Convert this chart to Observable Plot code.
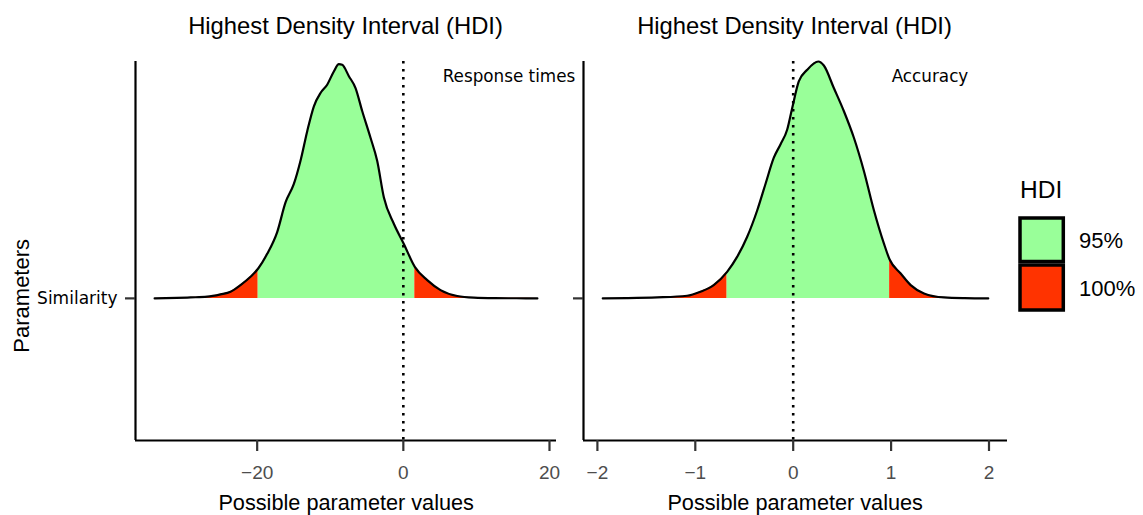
<!DOCTYPE html>
<html><head><meta charset="utf-8">
<script src="https://cdn.jsdelivr.net/npm/d3@7"></script>
<script src="https://cdn.jsdelivr.net/npm/@observablehq/plot@0.6"></script>
<style>
body{margin:0;background:#fff;}
#wrap{position:relative;width:1143px;height:515px;overflow:hidden;}
#wrap svg{position:absolute;top:0;}
</style></head><body><div id="wrap"></div>
<script>
// ---- data ----
const chartTitle = "Highest Density Interval (HDI)";
const parameterName = "Similarity";
const panelLabels = ["Response times", "Accuracy"];
const yAxisTitle = "Parameters";
const xAxisTitle = "Possible parameter values";
const hdiLevels = ["95%", "100%"];
const hdiColors = ["#99FF99", "#FF3300"];

// Response times posterior (density scaled so that the peak ~ 1)
const rtX = [-34.03, -31.0, -29.12, -26.84, -25.02, -23.65, -22.28, -20.91, -19.86, -18.63, -17.26, -16.12, -14.98, -14.07, -13.15, -12.24, -11.33, -10.42, -9.51, -8.82, -8.37, -7.45, -6.54, -5.63, -4.49, -3.58, -2.66, -1.30, 0.07, 1.57, 3.27, 5.09, 7.37, 9.65, 12.5, 15.5, 18.34];
const rtH = [0, 0.002, 0.004, 0.007, 0.017, 0.028, 0.056, 0.091, 0.126, 0.188, 0.28, 0.405, 0.483, 0.581, 0.706, 0.811, 0.867, 0.902, 0.958, 0.989, 0.986, 0.938, 0.888, 0.791, 0.678, 0.581, 0.426, 0.315, 0.23, 0.133, 0.077, 0.035, 0.01, 0.003, 0.001, 0.0005, 0];
const rtHdi = [-19.86, 1.57];
const rtTicks = [-20, 0, 20];
const rtDomain = [-36.65, 20.96];

// Accuracy posterior
const accX = [-1.945, -1.70, -1.39, -1.084, -0.948, -0.812, -0.675, -0.573, -0.471, -0.368, -0.283, -0.198, -0.130, -0.061, -0.010, 0.057, 0.143, 0.256, 0.313, 0.415, 0.518, 0.620, 0.722, 0.825, 0.927, 0.985, 1.098, 1.200, 1.336, 1.541, 1.75, 1.992];
const accH = [0, 0.001, 0.004, 0.011, 0.028, 0.056, 0.112, 0.175, 0.259, 0.371, 0.483, 0.594, 0.650, 0.713, 0.804, 0.916, 0.965, 1.0, 0.983, 0.888, 0.790, 0.678, 0.538, 0.371, 0.231, 0.164, 0.105, 0.056, 0.021, 0.004, 0.001, 0];
const accHdi = [-0.675, 0.985];
const accTicks = [-2, -1, 0, 1, 2];
const accDomain = [-2.142, 2.189];

const yDomain = [-0.6, 1];

// ---- build ----
function segments(xs, hs, hdi) {
  const out = [];
  xs.forEach((x, i) => {
    const h = hs[i];
    if (x <= hdi[0]) out.push({x, h, seg: "L", level: hdiLevels[1]});
    if (x >= hdi[0] && x <= hdi[1]) out.push({x, h, seg: "M", level: hdiLevels[0]});
    if (x >= hdi[1]) out.push({x, h, seg: "R", level: hdiLevels[1]});
  });
  return out;
}

function panel({xs, hs, hdi, domain, ticks, showLabel, width, left, ml, mr}) {
  const pts = xs.map((x, i) => ({x, h: hs[i]}));
  const svg = Plot.plot({
    width, height: 515,
    marginLeft: ml, marginRight: mr, marginTop: 61, marginBottom: 75,
    style: {background: "transparent", overflow: "visible", fontFamily: "Liberation Sans, Arial, sans-serif"},
    x: {domain, label: null},
    y: {domain: yDomain, label: null},
    color: {domain: hdiLevels, range: hdiColors},
    marks: [
      Plot.areaY(segments(xs, hs, hdi), {x: "x", y1: () => 0, y2: "h", z: "seg", fill: "level", curve: "monotone-x"}),
      Plot.lineY(pts, {x: "x", y: "h", stroke: "black", strokeWidth: 2.2, curve: "monotone-x"}),
      Plot.ruleX([0], {stroke: "black", strokeWidth: 2.6, strokeDasharray: "2.6,5.4"}),
      Plot.ruleX([domain[0]], {stroke: "black", strokeWidth: 2.2}),
      Plot.ruleY([yDomain[0]], {stroke: "black", strokeWidth: 2.2}),
      Plot.axisX({ticks, tickSize: 11, tickPadding: 14, fontSize: 19, stroke: "#333", strokeWidth: 2.2, fill: "#4d4d4d",
        tickFormat: d3.format(","), label: null}),
      Plot.axisY({ticks: [0], tickSize: 10, tickPadding: 8, fontSize: 17, fontFamily: "DejaVu Sans", stroke: "#333", strokeWidth: 2.2, fill: "black",
        tickFormat: () => showLabel ? parameterName : "", label: null})
    ]
  });
  svg.style.left = left + "px";
  return svg;
}

const wrap = document.getElementById("wrap");
wrap.appendChild(panel({xs: rtX, hs: rtH, hdi: rtHdi, domain: rtDomain, ticks: rtTicks, showLabel: true, width: 580, left: 0, ml: 135, mr: 24}));
wrap.appendChild(panel({xs: accX, hs: accH, hdi: accHdi, domain: accDomain, ticks: accTicks, showLabel: false, width: 583, left: 560, ml: 23, mr: 136}));

// ---- overlay texts and legend ----
const ov = d3.select(wrap).append("svg").attr("width", 1143).attr("height", 515)
  .style("left", "0px").style("overflow", "visible")
  .style("font-family", "Liberation Sans, Arial, sans-serif");

[345.5, 794.5].forEach(cx => {
  ov.append("text").attr("x", cx).attr("y", 33.8).attr("text-anchor", "middle")
    .attr("font-size", 23.8).attr("fill", "black").text(chartTitle);
  ov.append("text").attr("x", cx + 0.7).attr("y", 510).attr("text-anchor", "middle")
    .attr("font-size", 21.7).attr("fill", "black").text(xAxisTitle);
});
ov.append("text").attr("x", 442.7).attr("y", 82.3).attr("font-family", "DejaVu Sans")
  .attr("font-size", 16.8).text(panelLabels[0]);
ov.append("text").attr("x", 891.7).attr("y", 82.3).attr("font-family", "DejaVu Sans")
  .attr("font-size", 16.8).text(panelLabels[1]);
ov.append("text").attr("transform", "translate(29.3,295.8) rotate(-90)").attr("text-anchor", "middle")
  .attr("font-size", 22).text(yAxisTitle);

// legend
ov.append("text").attr("x", 1020).attr("y", 198.3).attr("font-size", 24.5).text("HDI");
const keyY = [218, 265], keyH = [43.5, 45];
hdiLevels.forEach((lv, i) => {
  ov.append("rect").attr("x", 1020).attr("y", keyY[i]).attr("width", 43.3).attr("height", keyH[i])
    .attr("fill", hdiColors[i]).attr("stroke", "black").attr("stroke-width", 3.5);
  ov.append("text").attr("x", 1079).attr("y", [248.3, 296][i]).attr("font-size", 22).text(lv);
});
</script></body></html>
